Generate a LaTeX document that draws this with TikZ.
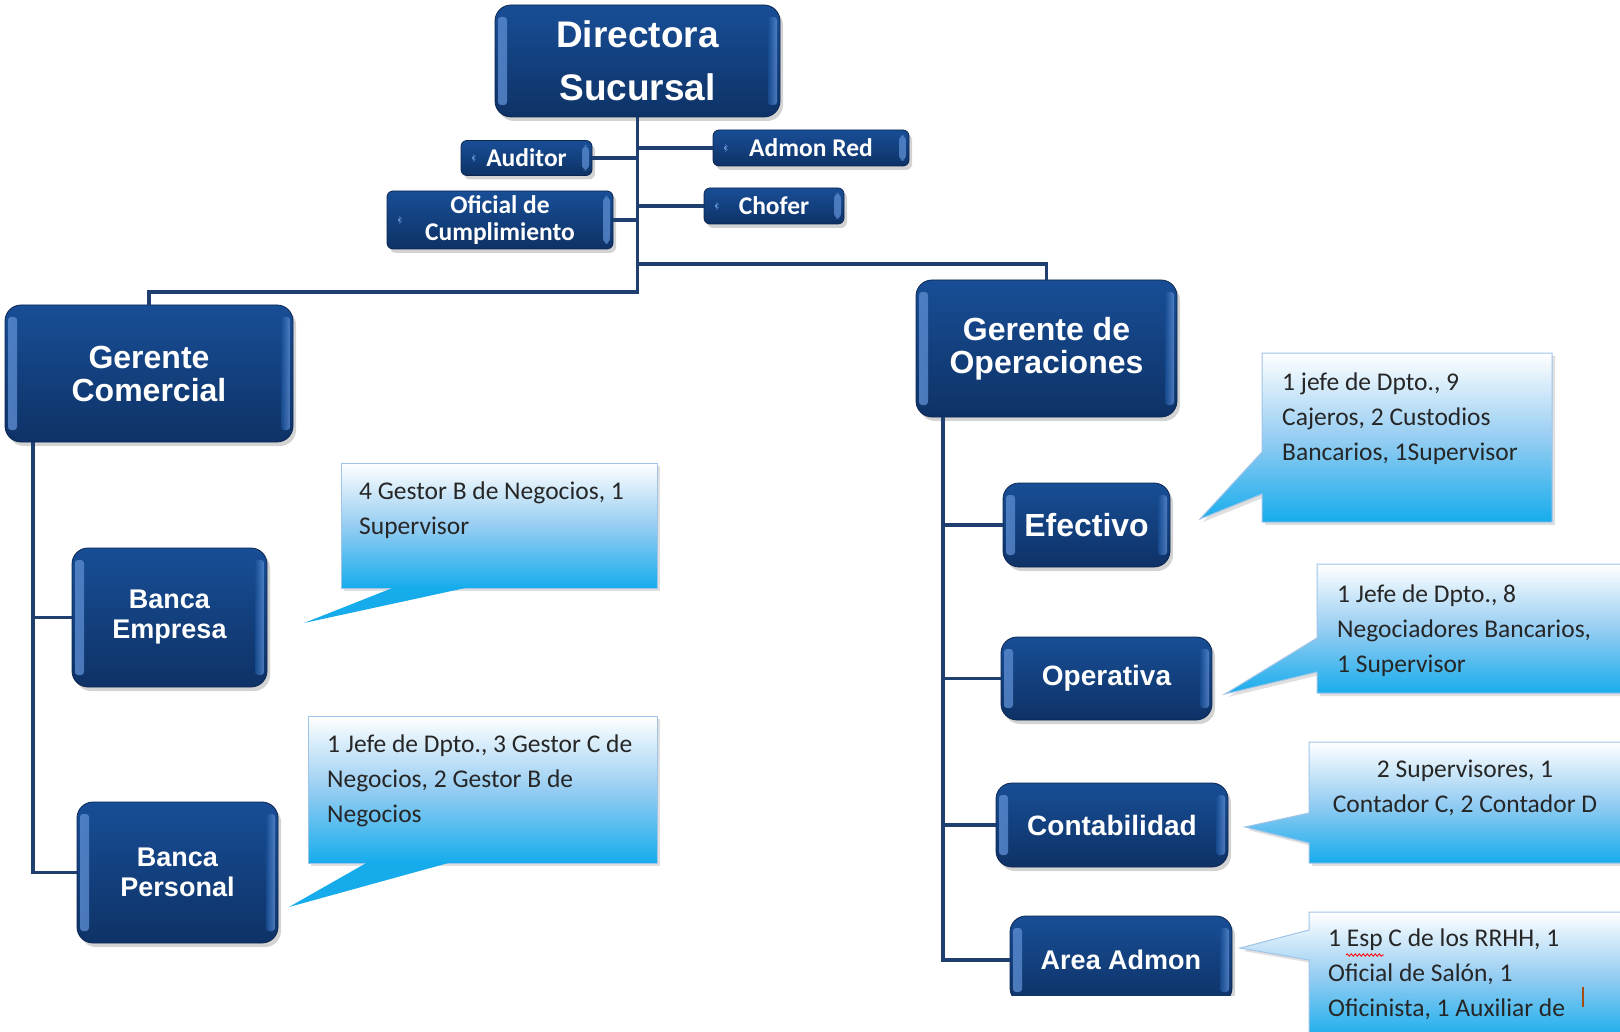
\documentclass[tikz,border=0pt]{standalone}
\usepackage{fontspec}
\setmainfont{Carlito}
\newfontfamily\headfont{Liberation Sans}
\usetikzlibrary{shadows,decorations.pathmorphing}

\definecolor{unittop}{RGB}{24,78,150}
\definecolor{unitbot}{RGB}{14,50,102}
\definecolor{unitedge}{RGB}{12,38,80}
\definecolor{bevel}{RGB}{92,140,208}
\definecolor{linkcol}{RGB}{31,63,112}
\definecolor{notecyan}{RGB}{22,172,236}
\definecolor{notemid}{RGB}{150,205,242}
\definecolor{noteedge}{RGB}{160,196,232}
\definecolor{cursorcol}{RGB}{165,75,20}

\tikzset{
  unit/.style={rectangle, rounded corners=16pt, draw=unitedge, line width=0.8pt,
    top color=unittop, bottom color=unitbot, text=white, align=center,
    inner sep=0pt, outer sep=0pt,
    drop shadow={shadow xshift=3pt, shadow yshift=-4pt, opacity=0.35},
    path picture={
      \shade[left color=bevel, right color=unittop, rounded corners=3pt, opacity=0.8]
        ([xshift=3pt,yshift=-12pt]path picture bounding box.north west) rectangle
        ([xshift=12pt,yshift=12pt]path picture bounding box.south west);
      \shade[left color=unittop, right color=bevel, rounded corners=3pt, opacity=0.8]
        ([xshift=-12pt,yshift=-12pt]path picture bounding box.north east) rectangle
        ([xshift=-3pt,yshift=12pt]path picture bounding box.south east);
    }},
  minor/.style={unit, rounded corners=6pt,
    font=\bfseries\fontsize{25.5}{27}\selectfont,
    path picture={
      \shade[left color=unittop, right color=bevel, opacity=0.8]
        ([xshift=-10pt,yshift=-5pt]path picture bounding box.north east) rectangle
        ([xshift=-3pt,yshift=5pt]path picture bounding box.south east);
      \fill[bevel] ([xshift=11pt,yshift=5pt]path picture bounding box.west)
        -- ([xshift=16pt]path picture bounding box.west)
        -- ([xshift=11pt,yshift=-5pt]path picture bounding box.west) -- cycle;
    }},
  link/.style={draw=linkcol, line width=3.5pt},
  notebox/.style={rectangle, draw=noteedge, line width=1pt, inner sep=0pt, outer sep=0pt,
    top color=white, bottom color=notecyan, middle color=notemid,
    drop shadow={shadow xshift=3pt, shadow yshift=-3pt, opacity=0.25}},
  notearea/.style={rectangle, inner sep=0pt, outer sep=0pt},
  notefill/.style={draw=noteedge, line width=1pt,
    top color=white, bottom color=notecyan, middle color=notemid,
    drop shadow={shadow xshift=3pt, shadow yshift=-3pt, opacity=0.25}},
  notetext/.style={inner sep=0pt, align=left, text=black!85,
    font=\fontsize{25.5}{35}\selectfont}
}

\begin{document}
\begin{tikzpicture}[x=1pt, y=-1pt]
\useasboundingbox (0,0) rectangle (1620,1032);

\node[unit, minimum width=285pt, minimum height=112pt,
  font=\headfont\bfseries\fontsize{37}{53}\selectfont] (dir) at (637.5,61) {Directora\\Sucursal};
\node[minor, minimum width=131pt, minimum height=35pt] (aud) at (526.5,158) {Auditor};
\node[minor, minimum width=196pt, minimum height=36pt] (red) at (811,148) {Admon Red};
\node[minor, minimum width=226pt, minimum height=58pt] (ofc) at (500,220) {Oficial de\\Cumplimiento};
\node[minor, minimum width=140pt, minimum height=36pt] (cho) at (774,206) {Chofer};

\node[unit, minimum width=288pt, minimum height=137pt,
  font=\headfont\bfseries\fontsize{32}{33}\selectfont] (gc) at (149,373.5) {Gerente\\Comercial};
\node[unit, minimum width=261pt, minimum height=137pt,
  font=\headfont\bfseries\fontsize{32}{33}\selectfont] (go) at (1046.5,348.5) {Gerente de\\Operaciones};

\node[unit, minimum width=195pt, minimum height=139pt,
  font=\headfont\bfseries\fontsize{27}{30}\selectfont] (be) at (169.5,617.5) {Banca\\Empresa};
\node[unit, minimum width=201pt, minimum height=141pt,
  font=\headfont\bfseries\fontsize{27}{30}\selectfont] (bp) at (177.5,872.5) {Banca\\Personal};

\node[unit, minimum width=167pt, minimum height=84pt,
  font=\headfont\bfseries\fontsize{32}{34}\selectfont] (ef) at (1086.5,525) {Efectivo};
\node[unit, minimum width=211pt, minimum height=83pt,
  font=\headfont\bfseries\fontsize{28}{30}\selectfont] (op) at (1106.5,678.5) {Operativa};
\node[unit, minimum width=232pt, minimum height=84pt,
  font=\headfont\bfseries\fontsize{28}{30}\selectfont] (co) at (1112,825) {Contabilidad};
\begin{scope}
\clip (0,0) rectangle (1620,995);
\node[unit, minimum width=222pt, minimum height=88pt,
  font=\headfont\bfseries\fontsize{27}{30}\selectfont] (aa) at (1121,960) {Area Admon};
\end{scope}

\draw[link] (dir.south) -- ++(0,175) -| (gc.north);
\draw[link] ([yshift=-147pt]dir.south) -| (go.north);
\draw[link] (aud.east) -- (aud.east -| dir.south);
\draw[link] (red.west) -- (red.west -| dir.south);
\draw[link] (ofc.east) -- (ofc.east -| dir.south);
\draw[link] (cho.west) -- (cho.west -| dir.south);
\draw[link] ([xshift=28pt]gc.south west) |- (be.west);
\draw[link] ([xshift=28pt]gc.south west) |- (bp.west);
\draw[link] ([xshift=27pt]go.south west) |- (ef.west);
\draw[link] ([xshift=27pt]go.south west) |- (op.west);
\draw[link] ([xshift=27pt]go.south west) |- (co.west);
\draw[link] ([xshift=27pt]go.south west) |- (aa.west);

\node[notebox, minimum width=316pt, minimum height=125pt] (n1) at (499,525.5) {};
\coordinate (t1) at (304,623);
\fill[notecyan] ([xshift=54pt,yshift=1pt]n1.south west) -- (t1) -- ([xshift=129pt,yshift=1pt]n1.south west) -- cycle;
\node[notetext, anchor=north west] (x1) at (359,482) {4 Gestor B de Negocios, 1\\Supervisor};

\node[notebox, minimum width=349pt, minimum height=147pt] (n2) at (482.5,789.5) {};
\coordinate (t2) at (289,907);
\fill[notecyan] ([xshift=60pt,yshift=1pt]n2.south west) -- (t2) -- ([xshift=144pt,yshift=1pt]n2.south west) -- cycle;
\node[notetext, anchor=north west] (x2) at (327,735) {1 Jefe de Dpto., 3 Gestor C de\\Negocios, 2 Gestor B de\\Negocios};

\node[notearea, minimum width=290pt, minimum height=169pt] (n3) at (1407,437.5) {};
\coordinate (t3) at (1200,519);
\path[notefill] (n3.north west) -- (n3.north east) -- (n3.south east) -- (n3.south west)
  -- ([yshift=28pt]n3.south west) -- (t3) -- ([yshift=70pt]n3.south west) -- cycle;
\node[notetext, anchor=north west] (x3) at (1282,373) {1 jefe de Dpto., 9\\Cajeros, 2 Custodios\\Bancarios, 1Supervisor};

\node[notearea, minimum width=313pt, minimum height=129pt] (n4) at (1473.5,628.5) {};
\coordinate (t4) at (1225,694);
\path[notefill] (n4.north west) -- (n4.north east) -- (n4.south east) -- (n4.south west)
  -- ([yshift=21pt]n4.south west) -- (t4) -- ([yshift=55pt]n4.south west) -- cycle;
\node[notetext, anchor=north west] (x4) at (1337,585) {1 Jefe de Dpto., 8\\Negociadores Bancarios,\\1 Supervisor};

\node[notearea, minimum width=321pt, minimum height=121pt] (n5) at (1469.5,802.5) {};
\coordinate (t5) at (1245,827);
\path[notefill] (n5.north west) -- (n5.north east) -- (n5.south east) -- (n5.south west)
  -- ([yshift=20pt]n5.south west) -- (t5) -- ([yshift=50pt]n5.south west) -- cycle;
\node[notetext, align=center, anchor=north] (x5) at (1465,760) {2 Supervisores, 1\\Contador C, 2 Contador D};

\node[notearea, minimum width=321pt, minimum height=128pt] (n6) at (1469.5,976) {};
\coordinate (t6) at (1240,948);
\path[notefill] (n6.north west) -- (n6.north east) -- (n6.south east) -- (n6.south west)
  -- ([yshift=-48pt]n6.north west) -- (t6) -- ([yshift=-18pt]n6.north west) -- cycle;
\node[notetext, anchor=north west] (x6) at (1328,929) {1 Esp C de los RRHH, 1\\Oficial de Salón, 1\\Oficinista, 1 Auxiliar de};
\draw[red, line width=0.8pt, decorate, decoration={snake, amplitude=1.2pt, segment length=4pt}] (1346,955) -- (1384,955);
\draw[cursorcol, line width=2.5pt] (1583,987) -- (1583,1007);
\end{tikzpicture}
\end{document}
